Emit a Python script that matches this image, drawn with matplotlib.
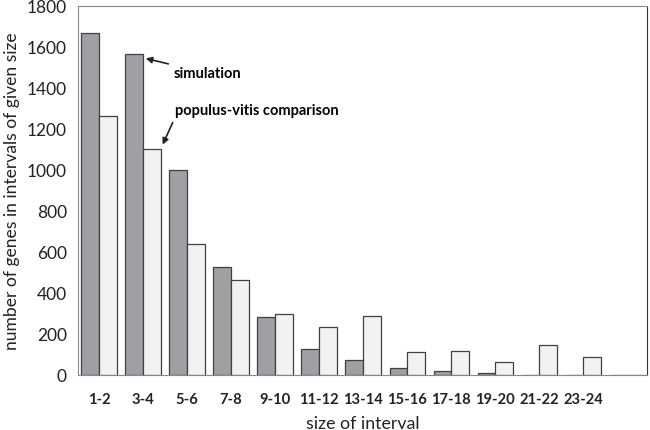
import matplotlib
matplotlib.use("Agg")
import matplotlib.pyplot as plt
import numpy as np

categories = ["1-2", "3-4", "5-6", "7-8", "9-10", "11-12", "13-14",
              "15-16", "17-18", "19-20", "21-22", "23-24", ""]
simulation = [1667, 1562, 998, 526, 281, 126, 71, 32, 18, 9, 2, 1, 2]
populus_vitis = [1263, 1101, 636, 464, 296, 234, 288, 113, 118, 62, 144, 86, 0]

plt.rcParams['font.family'] = ['Lato', 'DejaVu Sans']

fig = plt.figure(figsize=(6.5, 4.31), dpi=100)
ax = fig.add_axes([78/650, 1-376/431, (647-78)/650, (376-6.5)/431])

x = np.arange(len(categories))
w = 0.4
ax.bar(x - w/2, simulation, w, color='#a0a0a4', edgecolor='#404040', linewidth=0.9)
ax.bar(x + w/2, populus_vitis, w, color='#f2f2f2', edgecolor='#404040', linewidth=0.9)

ax.set_xlim(-0.477, 12.45)
ax.set_ylim(0, 1800)
ax.set_yticks(range(0, 1801, 200))
ax.tick_params(axis='y', labelsize=12.5, length=0, colors='#222222', pad=8)
ax.set_xticks(x)
ax.set_xticklabels(categories, fontweight='bold', fontsize=10.6)
ax.tick_params(axis='x', length=0, pad=12, colors='#222222')

for s in ['left', 'bottom', 'top']:
    ax.spines[s].set_color('#888888')
ax.spines['right'].set_color('#333333')

ax.set_ylabel("number of genes in intervals of given size", fontsize=12.6, color='#222222', labelpad=5)
ax.set_xlabel("size of interval", fontsize=12.8, color='#222222', labelpad=7)

ax.annotate("simulation", xy=(1.0, 1545), xytext=(1.7, 1470),
            fontsize=10.5, fontweight='bold', va='center', ha='left',
            arrowprops=dict(arrowstyle='-|>', color='#222222', lw=1.2, mutation_scale=9))
ax.annotate("populus-vitis comparison", xy=(1.42, 1110), xytext=(1.73, 1290),
            fontsize=10.5, fontweight='bold', va='center', ha='left',
            arrowprops=dict(arrowstyle='-|>', color='#222222', lw=1.2, mutation_scale=9,
                            relpos=(0.0, 0.0)))

fig.savefig("out.png", dpi=100)
